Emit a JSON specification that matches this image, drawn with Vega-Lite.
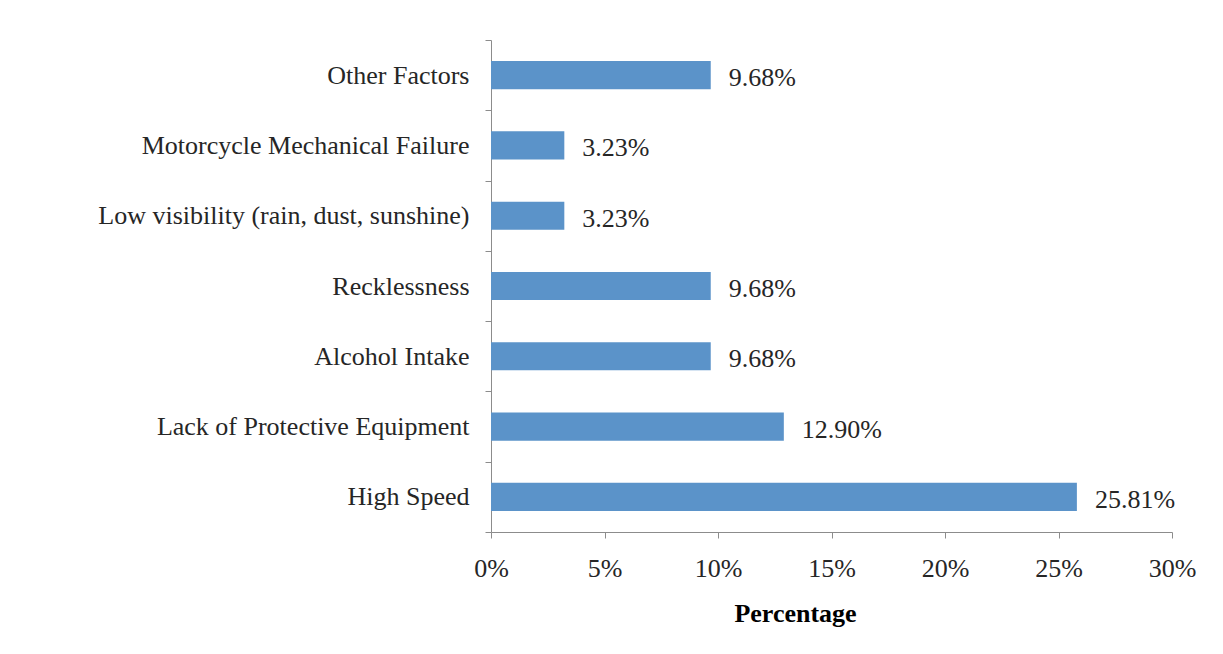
{
  "$schema": "https://vega.github.io/schema/vega-lite/v6.json",
  "width": 681,
  "height": 492,
  "autosize": {"type": "none"},
  "padding": {"left": 491, "top": 40, "right": 51, "bottom": 122},
  "background": "white",
  "config": {
    "view": {"stroke": null},
    "font": "Liberation Serif",
    "axis": {"labelFont": "Liberation Serif", "titleFont": "Liberation Serif"}
  },
  "data": {
    "values": [
      {"factor": "Other Factors", "pct": 0.0968},
      {"factor": "Motorcycle Mechanical Failure", "pct": 0.0323},
      {"factor": "Low visibility (rain, dust, sunshine)", "pct": 0.0323},
      {"factor": "Recklessness", "pct": 0.0968},
      {"factor": "Alcohol Intake", "pct": 0.0968},
      {"factor": "Lack of Protective Equipment", "pct": 0.1290},
      {"factor": "High Speed", "pct": 0.2581}
    ]
  },
  "encoding": {
    "y": {
      "field": "factor",
      "type": "nominal",
      "sort": null,
      "scale": {"paddingInner": 0, "paddingOuter": 0},
      "axis": {
        "title": null,
        "tickBand": "extent",
        "tickSize": 6,
        "tickColor": "#8c8c8c",
        "domainColor": "#8c8c8c",
        "labelFontSize": 26,
        "labelColor": "#262626",
        "labelPadding": 16,
        "labelLimit": 600
      }
    },
    "x": {
      "field": "pct",
      "type": "quantitative",
      "scale": {"domain": [0, 0.3], "nice": false},
      "axis": {
        "title": "Percentage",
        "format": "%",
        "values": [0, 0.05, 0.1, 0.15, 0.2, 0.25, 0.3],
        "grid": false,
        "tickSize": 6,
        "tickColor": "#8c8c8c",
        "domainColor": "#8c8c8c",
        "labelFontSize": 26,
        "labelColor": "#262626",
        "labelPadding": 17,
        "labelFlush": false,
        "titleFontSize": 26,
        "titleFontWeight": "bold",
        "titleColor": "#000000",
        "titlePadding": 19,
        "titleX": 304
      }
    }
  },
  "layer": [
    {"mark": {"type": "bar", "color": "#5b93c9", "height": {"band": 0.4}}},
    {
      "mark": {"type": "text", "align": "left", "baseline": "middle", "dx": 18, "dy": 3, "fontSize": 26, "color": "#262626"},
      "encoding": {"text": {"field": "pct", "type": "quantitative", "format": ".2%"}}
    }
  ]
}
